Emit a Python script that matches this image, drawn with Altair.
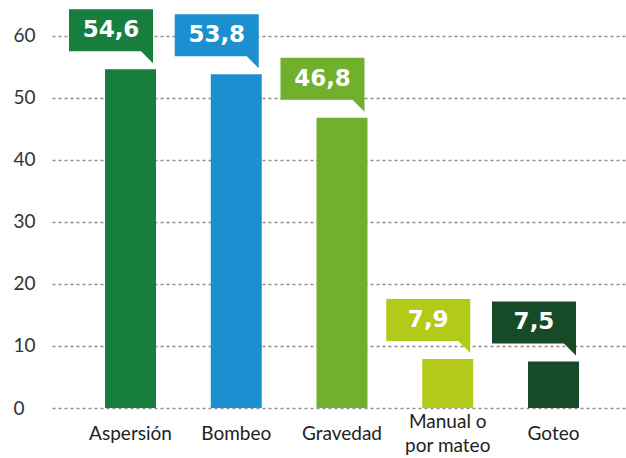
import altair as alt
import pandas as pd

categories = ["Aspersión", "Bombeo", "Gravedad", "Manual o por mateo", "Goteo"]
values = [54.6, 53.8, 46.8, 7.9, 7.5]
value_labels = ["54,6", "53,8", "46,8", "7,9", "7,5"]
colors = ["#177e3d", "#1b8fd0", "#70b02c", "#b4ca19", "#174a26"]
y_ticks = [0, 10, 20, 30, 40, 50, 60]

df = pd.DataFrame({"cat": categories, "value": values, "label": value_labels})

# callout shape in pixel units (size=4 -> 1 unit = 1 px), anchored at bar top centre
callout_path = "M -61.5 -60 L 22.5 -60 L 22.5 -6 L 10.5 -18 L -61.5 -18 Z"

x_enc = alt.X(
    "cat:N",
    sort=categories,
    scale=alt.Scale(paddingInner=0.518, paddingOuter=0.473, align=0.53),
    axis=alt.Axis(
        title=None, labelAngle=0, domain=False, ticks=False, tickSize=0,
        labelPadding={"condition": {"test": "datum.value == 'Manual o por mateo'", "value": 13}, "value": 25},
        labelBaseline="middle", labelFontSize=19,
        labelFont="Lato", labelColor="#222222", labelLimit=300,
        labelLineHeight=24,
        labelExpr="datum.label == 'Manual o por mateo' ? ['Manual o', 'por mateo'] : datum.label",
    ),
)
y_enc = alt.Y(
    "value:Q",
    scale=alt.Scale(domain=[0, 64], nice=False, zero=True),
    axis=alt.Axis(
        title=None, values=y_ticks, grid=True, gridDash=[3, 3],
        gridColor="#8f8f8f", gridWidth=1.5, domain=False, ticks=False, tickSize=0,
        labelAlign="left", labelPadding=39, labelBaseline="middle",
        labelFontSize=19, labelFont="Lato", labelColor="#333333",
    ),
)
color_enc = alt.Color("cat:N", scale=alt.Scale(domain=categories, range=colors), legend=None)

base = alt.Chart(df).encode(x=x_enc, y=y_enc, color=color_enc)

bars = base.mark_bar()
callouts = base.mark_point(shape=callout_path, size=4, filled=True, opacity=1, strokeWidth=0)
texts = base.mark_text(
    dx=-19.5, dy=-39, font="DejaVu Sans", fontWeight="bold", fontSize=23,
    baseline="middle", align="center", color="white",
).encode(text="label:N", color=alt.value("white"))

chart = alt.layer(bars, callouts, texts).properties(
    width=574, height=397,
    padding={"left": 52, "top": 11, "right": 0, "bottom": 50},
    autosize=alt.AutoSizeParams(type="none"),
    background="white",
).configure_view(stroke=None)

chart.save("out.html", embed_options={"renderer": "svg", "actions": False})
